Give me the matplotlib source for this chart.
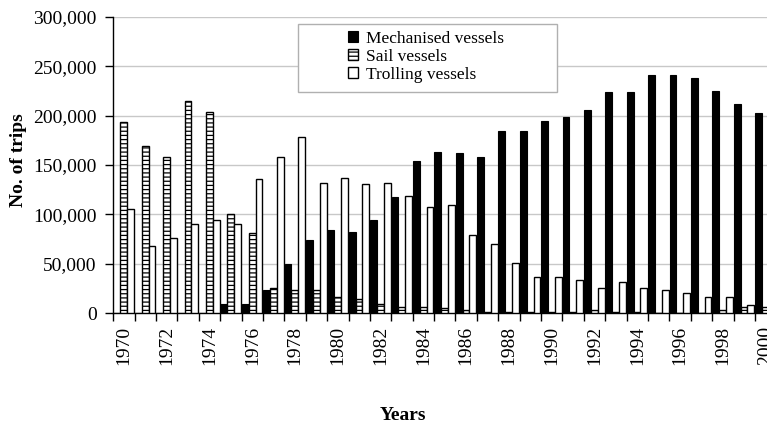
import numpy as np
import matplotlib.pyplot as plt
from matplotlib.patches import Rectangle

years = list(range(1970, 2001))
mechanised = [0, 0, 0, 0, 0, 9500, 9500, 24000, 50000, 74000,
              84000, 82500, 94000, 118000, 154000, 163500, 162000, 158500, 184500, 184500,
              194000, 199000, 205500, 223500, 223500, 241500, 241500, 238000, 224500, 212000,
              202500]
sail = [193000, 169500, 158500, 215000, 204000, 100000, 81000, 26000, 24000, 24000,
        16000, 14500, 9500, 6000, 6000, 5000, 3500, 1000, 1000, 1000,
        1000, 1000, 3500, 1000, 1000, 500, 500, 500, 3500, 6500,
        6500]
trolling = [105000, 68000, 76000, 90500, 94000, 90500, 136000, 158500, 178000, 132000,
            137000, 131000, 132000, 119000, 108000, 110000, 79000, 70000, 51000, 36500,
            36500, 34000, 25500, 32000, 25500, 24000, 21000, 16000, 16000, 8500,
            7000]
series_names = ["Mechanised vessels", "Sail vessels", "Trolling vessels"]

plt.rcParams["font.family"] = ["Liberation Serif", "DejaVu Serif"]
plt.rcParams["hatch.linewidth"] = 0.9

W, H = 767, 426
fig = plt.figure(figsize=(W / 100, H / 100), dpi=100)
ax = fig.add_axes([113.3 / W, 112.7 / H, 663 / W, 296.6 / H])

x = np.arange(len(years))
bw = 0.32
ax.bar(x - 0.33, mechanised, bw, color="black", edgecolor="black", linewidth=0.8,
       label=series_names[0], zorder=3)
ax.bar(x - 0.01, sail, bw, color="white", edgecolor="black", linewidth=1.0,
       hatch="----", label=series_names[1], zorder=3)
ax.bar(x + 0.31, trolling, bw, color="white", edgecolor="black", linewidth=1.0,
       label=series_names[2], zorder=3)

ax.set_xlim(-0.5, len(years) - 0.5)
ax.set_ylim(0, 300000)
ax.set_yticks(np.arange(0, 300001, 50000))
ax.set_yticklabels([f"{v:,}" for v in range(0, 300001, 50000)], fontsize=14)
ax.yaxis.grid(True, color="#c8c8c8", linewidth=1.0, zorder=0)
ax.set_axisbelow(True)

ax.set_xticks(x[::2])
ax.set_xticklabels([str(y) for y in years[::2]], rotation=90, fontsize=14)
ax.set_xticks(np.arange(-0.5, len(years), 1), minor=True)
ax.tick_params(axis="x", which="major", length=0, pad=9)
ax.tick_params(axis="x", which="minor", length=6, width=1, color="black", direction="out")
ax.tick_params(axis="y", length=6, width=1, direction="out", pad=6)

for s in ["top", "right"]:
    ax.spines[s].set_visible(False)
ax.spines["left"].set_linewidth(1.0)
ax.spines["bottom"].set_linewidth(1.0)

fig.text(19 / W, 1 - 160 / H, "No. of trips", rotation=90, fontsize=14,
         fontweight="bold", ha="center", va="center")
fig.text(403 / W, 1 - 416 / H, "Years", fontsize=14, fontweight="bold",
         ha="center", va="center")

# legend frame drawn by hand, entries without frame
box = Rectangle((0.2786, 0.746), 0.669 - 0.2786, 0.975 - 0.746, transform=ax.transAxes,
                facecolor="white", edgecolor="#b0b0b0", linewidth=1.0, zorder=4)
ax.add_patch(box)
leg = ax.legend(loc="upper left", bbox_to_anchor=(0.34, 0.985), frameon=False,
                fontsize=12.5, handlelength=0.55, handleheight=0.55,
                handletextpad=0.45, labelspacing=0.12, borderpad=0.05)
leg.set_zorder(5)

fig.savefig("out.png", dpi=100)
